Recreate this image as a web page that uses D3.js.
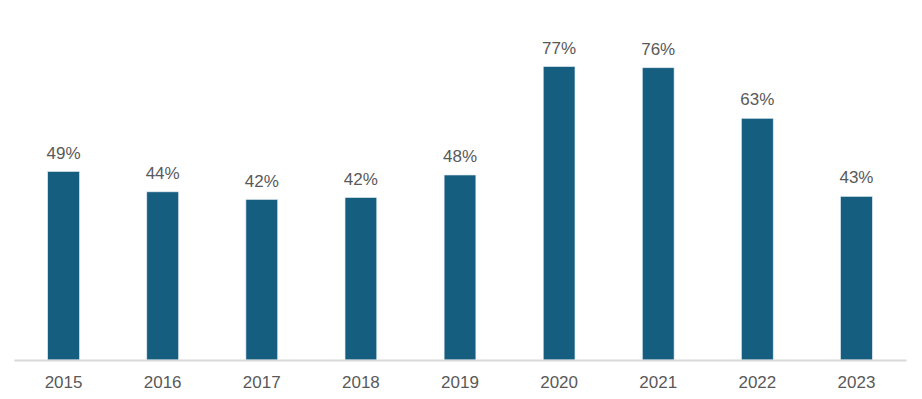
<!DOCTYPE html>
<html>
<head>
<meta charset="utf-8">
<script src="https://cdn.jsdelivr.net/npm/d3@7"></script>
<style>
  html, body { margin: 0; padding: 0; background: #fff; }
  svg text { font-family: "Liberation Sans", Arial, sans-serif; fill: #595959; }
</style>
</head>
<body>
<div id="chart"></div>
<script>
// Share per year
const years = ["2015", "2016", "2017", "2018", "2019", "2020", "2021", "2022", "2023"];
const shares = [0.492, 0.439, 0.419, 0.424, 0.483, 0.766, 0.763, 0.631, 0.427];

const width = 922, height = 399;
const axisY = 360, left = 14, right = 906;

const svg = d3.select("#chart").append("svg")
  .attr("width", width)
  .attr("height", height);

const x = d3.scaleBand()
  .domain(years)
  .range([left, right])
  .paddingInner(0.68)
  .paddingOuter(0.34);

const y = d3.scaleLinear()
  .domain([0, 0.9])
  .range([axisY, axisY - 0.9 * 383]);

const data = years.map((yr, i) => ({ year: yr, value: shares[i] }));

// bars
svg.append("g")
  .selectAll("rect")
  .data(data)
  .join("rect")
    .attr("x", d => x(d.year))
    .attr("y", d => y(d.value))
    .attr("width", x.bandwidth())
    .attr("height", d => axisY - y(d.value))
    .attr("fill", "#155e80")
    .attr("stroke", "#dbe7ee")
    .attr("stroke-width", 0.6);

// value labels
svg.append("g")
  .selectAll("text")
  .data(data)
  .join("text")
    .attr("x", d => x(d.year) + x.bandwidth() / 2)
    .attr("y", d => y(d.value) - 13)
    .attr("text-anchor", "middle")
    .style("font-size", "17px")
    .text(d => d3.format(".0%")(d.value));

// x axis
const xAxis = svg.append("g")
  .attr("transform", "translate(0," + axisY + ")")
  .call(d3.axisBottom(x).tickSize(0).tickPadding(16));
xAxis.select(".domain")
  .attr("stroke", "#d9d9d9")
  .attr("stroke-width", 2);
xAxis.selectAll(".tick text")
  .style("font-size", "17px")
  .attr("fill", "#595959")
  .attr("font-family", null);
</script>
</body>
</html>
